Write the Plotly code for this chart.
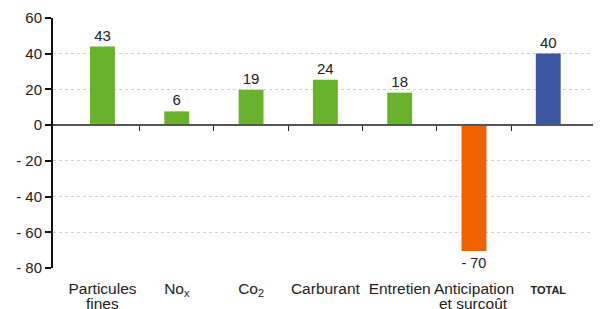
import plotly.graph_objects as go

categories = ["Particules<br>fines", "No<sub>x</sub>", "Co<sub>2</sub>", "Carburant",
              "Entretien", "Anticipation<br>et surcoût", "<b>TOTAL</b>"]
bar_values = [44, 7.7, 19.8, 25.4, 18.2, -70.5, 40.1]
value_labels = ["43", "6", "19", "24", "18", "- 70", "40"]
bar_colors = ["#69b22c", "#69b22c", "#69b22c", "#69b22c", "#69b22c", "#ee6200", "#3d56a2"]
y_ticks = [-80, -60, -40, -20, 0, 20, 40, 60]
y_tick_text = ["- 80", "- 60", "- 40", "- 20", "0", "20", "40", "60"]

n = len(categories)
xs = list(range(n))
xr = [-0.666, 6.71]
font = "Liberation Sans, Arial, sans-serif"

first_lines = [c.split("<br>")[0] for c in categories]
second_lines = [c.split("<br>")[1] if "<br>" in c else "" for c in categories]
first_lines = [t if "TOTAL" not in t else "<span style='font-size:11px'>" + t + "</span>" for t in first_lines]

fig = go.Figure()
fig.add_trace(go.Bar(
    x=xs, y=bar_values, marker=dict(color=bar_colors, line=dict(width=0)),
    width=0.335, text=value_labels, textposition="outside", cliponaxis=False,
    textfont=dict(size=15, color="#222", family=font), hoverinfo="skip",
))
# invisible trace for the overlay axis
fig.add_trace(go.Scatter(x=[0], y=[0], xaxis="x2", mode="markers",
                         marker=dict(opacity=0), hoverinfo="skip", showlegend=False))

# second lines of the category labels (tighter line spacing than plotly's default)
for i, t in enumerate(second_lines):
    if t:
        fig.add_annotation(x=i, xref="x", y=0, yref="paper", yanchor="middle",
                           yshift=-35, text=t, showarrow=False,
                           font=dict(size=15.5, color="#222", family=font))

# page body has an 8px margin, so the figure is offset by 8px
fig.update_layout(
    width=593, height=301, margin=dict(l=45, r=0, t=10, b=41),
    plot_bgcolor="white", paper_bgcolor="white", showlegend=False,
    font=dict(family=font, size=15, color="#222"),
    xaxis=dict(range=xr, tickmode="array", tickvals=xs, automargin=False,
               ticktext=first_lines,
               showgrid=False, showline=False, zeroline=False, ticks="",
               ticklabelstandoff=9,
               tickfont=dict(size=15.5, color="#222"), fixedrange=True),
    xaxis2=dict(range=xr, overlaying="x", anchor="free", position=80 / 140,
                tickmode="array", tickvals=[i + 0.5 for i in range(n - 1)],
                showticklabels=False, ticks="outside", ticklen=5, tickcolor="#222",
                tickwidth=1, showline=True, linecolor="#555", linewidth=1.5,
                showgrid=False, zeroline=False),
    yaxis=dict(range=[-80, 60], tickmode="array", tickvals=y_ticks, ticktext=y_tick_text,
               automargin=False,
               showgrid=True, gridcolor="#d2d2d2", griddash="dot", gridwidth=1,
               zeroline=False, showline=True, linecolor="#111", linewidth=2,
               ticks="outside", ticklen=6, tickcolor="#111", tickwidth=1.5,
               tickfont=dict(size=15, color="#222")),
)
fig.write_html("out.html")
